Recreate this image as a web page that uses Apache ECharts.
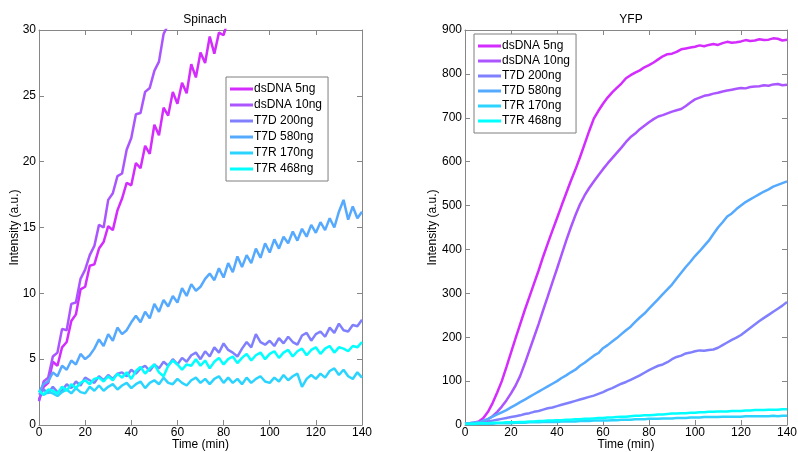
<!DOCTYPE html>
<html>
<head>
<meta charset="utf-8">
<script src="https://cdn.jsdelivr.net/npm/echarts@6/dist/echarts.min.js"></script>
<style>html,body{margin:0;padding:0;background:#fff;}#c{width:798px;height:452px;}</style>
</head>
<body>
<div id="c"></div>
<script>
var seriesNames = ['dsDNA 5ng', 'dsDNA 10ng', 'T7D 200ng', 'T7D 580ng', 'T7R 170ng', 'T7R 468ng'];
var seriesColors = ['#d42bff', '#aa55ff', '#8080ff', '#55aaff', '#2bd4ff', '#00ffff'];
var xTicks = [0, 20, 40, 60, 80, 100, 120, 140];

// time samples (min), every 2 minutes
var times = [0,2,4,6,8,10,12,14,16,18,20,22,24,26,28,30,32,34,36,38,40,42,44,46,48,50,52,54,56,58,60,62,64,66,68,70,72,74,76,78,80,82,84,86,88,90,92,94,96,98,100,102,104,106,108,110,112,114,116,118,120,122,124,126,128,130,132,134,136,138,140];

// ---- Spinach (left) ----
var spin5 = [1.9,2.9,3.2,4.8,4.5,5.9,6.3,7.9,8.4,10.3,10.5,12.1,12.2,13.4,13.9,15.1,14.8,16.3,17.2,18.4,18.2,19.9,19.5,21.2,20.6,22.8,22.0,24.1,23.5,25.3,24.4,26.0,25.2,27.4,26.4,28.3,27.5,29.5,28.2,29.8,29.6,30.8];
var spin10 = [1.8,3.3,3.6,5.2,5.5,7.3,7.2,9.2,9.3,11.1,11.8,12.9,13.6,15.2,15.0,17.1,17.6,18.9,19.1,20.9,21.8,23.6,23.7,25.3,25.6,26.9,27.6,29.7,30.4];
var spin200 = [2.3,2.7,2.4,2.9,2.5,2.6,3.1,2.8,3.3,3.0,3.6,3.4,3.2,3.7,3.4,3.8,3.5,3.9,4.0,3.7,4.2,3.9,4.3,4.5,4.1,4.6,4.3,4.8,4.5,5.0,4.6,5.1,4.8,5.3,5.5,5.0,5.6,5.2,5.9,5.5,6.2,5.7,5.5,5.2,5.8,6.3,5.9,6.9,6.3,6.1,6.4,6.0,6.6,6.2,6.7,6.3,6.1,6.8,7.0,6.4,6.9,7.1,6.7,7.4,7.0,7.7,7.2,7.1,7.6,7.5,8.0];
var spin580 = [2.5,3.1,3.3,4.0,3.7,4.5,4.2,4.9,4.6,5.4,5.0,5.3,5.8,6.5,6.0,6.9,6.4,7.4,6.9,7.2,7.8,8.3,7.8,8.6,8.1,9.2,8.6,9.5,9.0,9.8,9.3,10.4,9.8,10.7,10.2,10.5,11.1,11.5,11.0,11.9,11.2,12.3,11.6,12.8,12.0,12.9,12.3,13.4,12.7,13.8,13.1,14.1,13.4,14.3,13.8,14.7,14.0,14.9,14.3,15.2,14.6,15.4,14.8,15.7,15.0,16.2,17.1,15.6,16.6,15.7,16.2];
var spin170 = [2.6,2.3,2.5,2.4,2.2,2.5,2.7,2.4,2.8,2.5,2.4,2.9,2.6,3.0,2.6,2.9,3.1,2.7,3.0,3.2,2.8,3.1,3.3,2.8,3.2,3.4,3.1,3.6,3.2,3.1,3.5,3.2,3.0,3.4,3.6,3.2,3.5,3.1,3.5,3.7,3.2,3.6,3.2,3.5,3.1,3.6,3.2,3.5,3.7,3.3,3.2,3.6,3.3,3.8,3.4,3.7,3.9,2.9,3.5,3.8,3.5,3.9,3.6,4.1,4.3,3.8,4.2,3.7,3.5,4.0,3.6];
var spin468 = [2.6,2.3,2.7,2.6,2.4,2.9,2.6,3.1,2.8,3.2,3.4,3.1,3.5,3.6,3.3,3.7,3.4,3.9,3.6,4.0,3.5,4.1,4.4,3.9,4.3,4.6,4.0,3.7,4.5,4.9,4.6,4.2,4.6,4.5,5.0,4.5,4.9,4.3,4.8,5.1,4.6,5.0,5.2,4.7,5.1,5.4,4.9,5.3,5.5,5.0,5.4,5.6,5.1,5.5,5.7,5.2,5.6,5.8,5.3,5.7,5.9,5.4,5.8,6.0,5.5,5.9,5.8,5.6,6.0,5.9,6.3];
var spinYTicks = [0, 5, 10, 15, 20, 25, 30];

// ---- YFP (right) ----
var yfp5 = [3,4,5,8,16,30,50,74,100,132,165,198,230,262,292,322,352,384,414,443,471,500,528,556,582,610,640,670,698,716,732,746,758,768,778,790,797,803,808,815,820,826,833,840,845,846,850,856,858,860,862,865,863,866,868,866,870,873,871,872,874,877,875,876,879,877,878,881,880,876,878];
var yfp10 = [3,4,4,5,8,13,20,30,42,56,72,90,112,140,170,200,230,262,293,325,356,388,420,450,478,503,523,540,555,569,583,596,608,620,632,645,656,664,674,682,690,697,703,706,710,714,717,720,727,735,742,746,750,752,755,757,760,762,764,766,768,767,770,771,772,774,773,776,777,774,775];
var yfp200 = [3,4,5,6,7,8,10,12,14,16,18,20,22,25,27,30,32,35,38,40,43,46,49,52,55,58,61,64,67,71,75,80,84,89,94,98,103,108,113,119,125,130,135,138,143,150,155,158,163,165,168,170,169,171,172,176,182,188,194,199,205,213,221,229,237,244,251,258,265,272,280];
var yfp580 = [3,4,5,6,10,14,19,24,29,34,40,46,52,58,64,70,76,82,88,94,100,107,113,120,126,135,142,150,158,164,175,182,190,198,207,216,224,235,245,254,265,276,287,298,309,320,334,347,360,372,385,396,408,420,435,450,462,475,482,492,500,508,514,520,526,532,537,543,547,551,555];
var yfp170 = [2,2,2,3,3,3,3,4,4,4,4,5,5,5,6,6,6,7,7,7,7,8,8,8,8,9,9,9,10,10,10,10,11,11,12,12,12,13,13,13,14,14,14,15,15,15,16,16,16,17,17,17,18,18,18,18,19,19,19,19,19,20,20,20,20,20,20,21,20,21,21];
var yfp468 = [3,3,3,4,4,4,5,5,5,6,6,6,7,7,8,8,9,9,10,10,11,11,12,12,13,13,14,14,15,16,16,17,17,18,19,19,20,21,21,22,22,23,24,24,25,26,26,27,27,28,28,29,29,30,30,31,31,31,32,32,32,33,33,34,34,34,35,35,35,36,36];
var yfpYTicks = [0, 100, 200, 300, 400, 500, 600, 700, 800, 900];

var spinValues = [spin5, spin10, spin200, spin580, spin170, spin468];
var yfpValues = [yfp5, yfp10, yfp200, yfp580, yfp170, yfp468];

function pairs(vals) {
  var out = [];
  for (var i = 0; i < vals.length; i++) out.push([times[i], vals[i]]);
  return out;
}

var axisGray = '#868686';
var font = 'Liberation Sans, Arial, sans-serif';

function xAxes(gi) {
  return [
    {gridIndex: gi, type: 'value', min: 0, max: 140, interval: 20, position: 'bottom',
     name: 'Time (min)', nameLocation: 'middle', nameGap: 14, nameMoveOverlap: false,
     nameTextStyle: {color: '#000', fontSize: 12, fontFamily: font},
     axisLine: {show: true, onZero: false, lineStyle: {color: axisGray, width: 1}},
     axisTick: {show: true, inside: true, length: 5, lineStyle: {color: axisGray}},
     axisLabel: {color: '#000', fontSize: 12, fontFamily: font, margin: 2},
     splitLine: {show: false}},
    {gridIndex: gi, type: 'value', min: 0, max: 140, interval: 20, position: 'top',
     axisLine: {show: true, onZero: false, lineStyle: {color: axisGray, width: 1}},
     axisTick: {show: true, inside: true, length: 5, lineStyle: {color: axisGray}},
     axisLabel: {show: false}, splitLine: {show: false}}
  ];
}
function yAxes(gi, max, interval, ticks) {
  return [
    {gridIndex: gi, type: 'value', min: 0, max: max, interval: interval, position: 'left',
     name: 'Intensity (a.u.)', nameLocation: 'middle', nameGap: gi === 0 ? 18 : 26, nameMoveOverlap: false,
     nameTextStyle: {color: '#000', fontSize: 12, fontFamily: font},
     axisLine: {show: true, onZero: false, lineStyle: {color: axisGray, width: 1}},
     axisTick: {show: true, inside: true, length: 5, lineStyle: {color: axisGray}},
     axisLabel: {color: '#000', fontSize: 12, fontFamily: font, margin: 3},
     splitLine: {show: false}},
    {gridIndex: gi, type: 'value', min: 0, max: max, interval: interval, position: 'right',
     axisLine: {show: true, onZero: false, lineStyle: {color: axisGray, width: 1}},
     axisTick: {show: true, inside: true, length: 5, lineStyle: {color: axisGray}},
     axisLabel: {show: false}, splitLine: {show: false}}
  ];
}

var series = [];
for (var k = 0; k < 6; k++) {
  series.push({name: seriesNames[k], type: 'line', xAxisIndex: 0, yAxisIndex: 0,
    data: pairs(spinValues[k]), showSymbol: false, symbol: 'none', clip: true,
    lineStyle: {color: seriesColors[k], width: 2.5}, itemStyle: {color: seriesColors[k]}});
}
for (var k2 = 0; k2 < 6; k2++) {
  series.push({name: seriesNames[k2], type: 'line', xAxisIndex: 2, yAxisIndex: 2,
    data: pairs(yfpValues[k2]), showSymbol: false, symbol: 'none', clip: true,
    lineStyle: {color: seriesColors[k2], width: 2.5}, itemStyle: {color: seriesColors[k2]}});
}

function legend(left, top, gap) {
  return {
    data: seriesNames, orient: 'vertical', left: left, top: top,
    icon: 'rect', itemWidth: 23, itemHeight: 3, itemGap: gap,
    padding: [6, 6, 6, 4],
    borderColor: '#7f7f7f', borderWidth: 1, backgroundColor: '#fff',
    textStyle: {color: '#000', fontSize: 12, fontFamily: font, padding: [0, 0, 0, -4]},
    selectedMode: false
  };
}

var chart = echarts.init(document.getElementById('c'), null, {renderer: 'canvas'});
chart.setOption({
  animation: false,
  backgroundColor: '#fff',
  title: [
    {text: 'Spinach', left: 200, top: 9, textAlign: 'center', textStyle: {fontSize: 12, fontWeight: 'normal', color: '#000', fontFamily: font}},
    {text: 'YFP', left: 626, top: 9, textAlign: 'center', textStyle: {fontSize: 12, fontWeight: 'normal', color: '#000', fontFamily: font}}
  ],
  grid: [
    {left: 39, top: 30, width: 323, height: 395, show: false, outerBoundsMode: 'none', containLabel: false},
    {left: 465, top: 30, width: 322, height: 395, show: false, outerBoundsMode: 'none', containLabel: false}
  ],
  xAxis: xAxes(0).concat(xAxes(1)),
  yAxis: yAxes(0, 30, 5, spinYTicks).concat(yAxes(1, 900, 100, yfpYTicks)),
  legend: [legend(226, 77, 4), legend(474, 34, 3)],
  series: series
});
</script>
</body>
</html>
